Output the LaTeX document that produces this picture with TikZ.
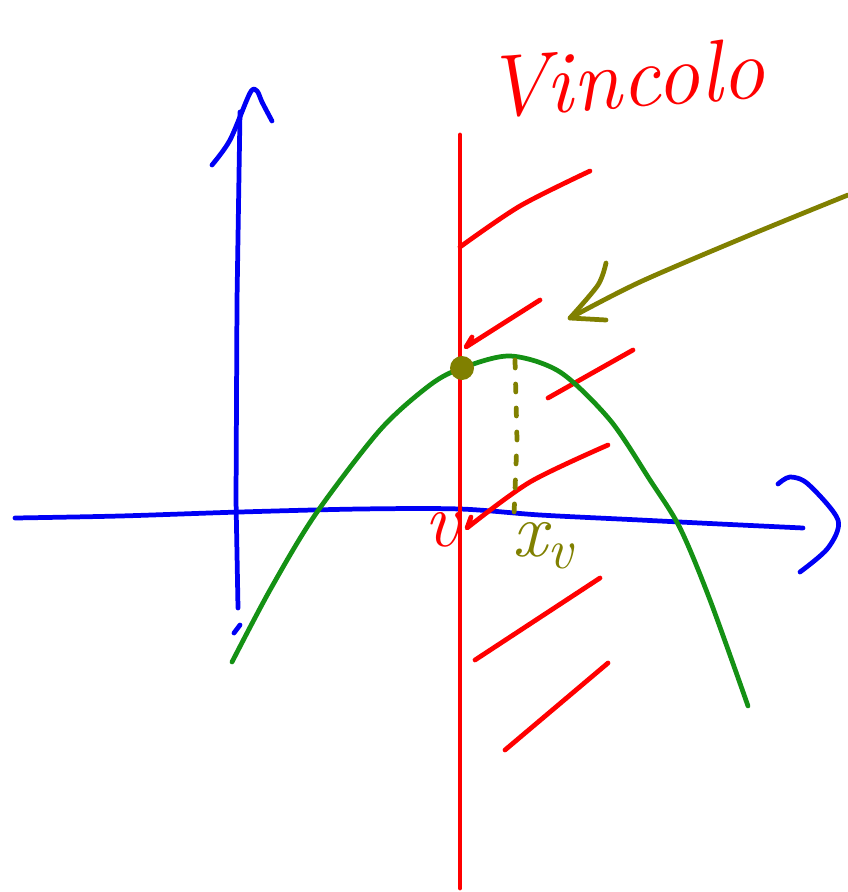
\documentclass[tikz,border=0pt]{standalone}
\usepackage{tikz}
\usetikzlibrary{positioning}
\definecolor{inkblue}{RGB}{0,0,245}
\definecolor{inkred}{RGB}{255,0,0}
\definecolor{inkgreen}{RGB}{20,145,20}
\definecolor{inkolive}{RGB}{128,128,0}

\begin{document}
\begin{tikzpicture}[
x=0.02cm, y=-0.02cm,
pen/.style={line width=2.7pt, line cap=round, line join=round},
axis/.style={pen, draw=inkblue},
bound/.style={pen, draw=inkred},
curve/.style={pen, draw=inkgreen},
pointer/.style={pen, draw=inkolive},
tag/.style={inner sep=0pt, font=\fontsize{44}{50}\selectfont\itshape}
]
\useasboundingbox (0,0) rectangle (848,892);

% axes
\draw[axis] plot[smooth] coordinates {(15,518) (120,516) (240,512) (360,509) (460,509) (540,515) (640,520) (720,524) (803,528)};
\draw[axis] plot[smooth] coordinates {(778,484) (790,477) (808,484) (838,520) (828,548) (800,572)};
\draw[axis] (238,608) -- (236,500) -- (237,300) -- (240,112);
\draw[axis] plot[smooth] coordinates {(212,165) (230,140) (250,93) (257,91) (262,102) (272,121)};
\draw[axis] (234,633) -- (240,625);

% constraint line and hatching
\coordinate (top) at (460,135);
\coordinate (bottom) at (460,888);
\draw[bound] (top) -- (bottom);
\draw[bound] plot[smooth] coordinates {(460,247) (520,206) (590,171)};
\draw[bound] (472,337) -- (466,347) -- (540,300);
\draw[bound] (548,398) -- (633,350);
\draw[bound] (471,517) -- (467,528) -- plot[smooth] coordinates {(467,528) (530,482) (608,445)};
\draw[bound] (475,660) -- (600,578);
\draw[bound] (505,750) -- (608,663);

% parabola
\draw[curve] plot[smooth] coordinates {(232,662) (270,590) (315,515) (380,430) (430,385) (462,368) (510,356) (560,372) (610,420) (650,480) (680,528) (710,600) (748,706)};

% vertex and pointer
\coordinate (vertex) at (462,368);
\fill[inkolive] (vertex) circle[radius=0.24cm];
\draw[pointer, dash pattern=on 0.16cm off 0.32cm] (515,360) -- (517,440) -- (514,515);
\draw[pointer] plot[smooth] coordinates {(848,195) (750,235) (640,282) (570,318)};
\draw[pointer] plot[smooth] coordinates {(606,263) (598,285) (570,318)} -- (606,320);

% labels
\node[tag, text=inkred, font=\fontsize{50}{56}\selectfont\itshape, rotate=4] (title) at (625,78) {Vincolo};
\node[tag, text=inkred] (vlab) at (442,530) {v};
\node[tag, text=inkolive, anchor=north west] (xvlab) at (512,522) {x\raisebox{-0.35ex}{\fontsize{32}{36}\selectfont v}};
\end{tikzpicture}
\end{document}
